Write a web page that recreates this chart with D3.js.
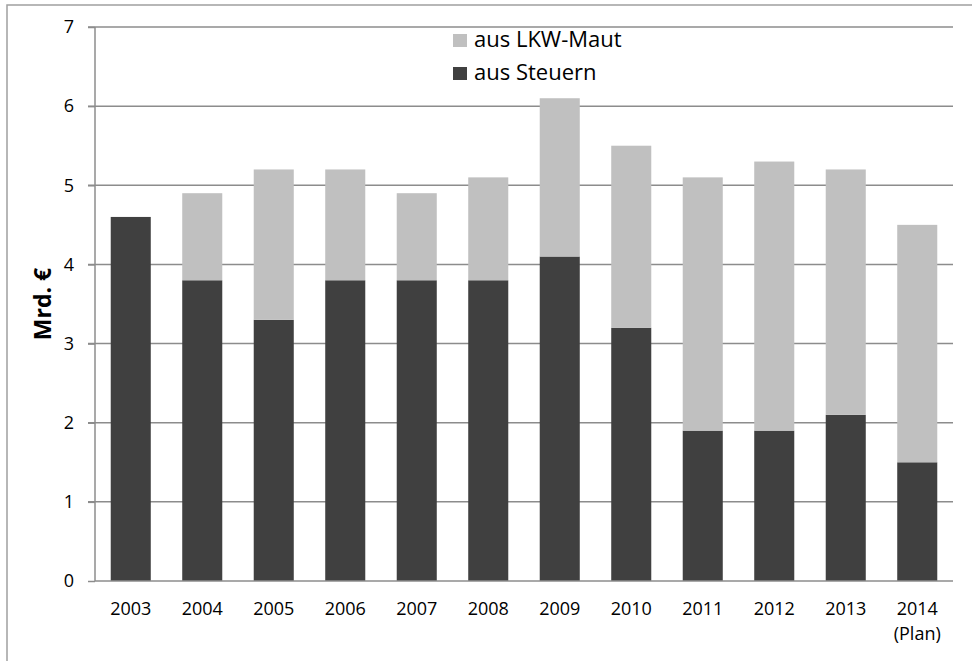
<!DOCTYPE html>
<html><head><meta charset="utf-8">
<script src="https://cdn.jsdelivr.net/npm/d3@7"></script>
<style>body{margin:0;background:#fff;} svg{display:block;}</style>
</head><body>
<svg id="c" width="972" height="661"></svg>
<script>
const categories = ["2003","2004","2005","2006","2007","2008","2009","2010","2011","2012","2013","2014"];
const steuern = [4.6,3.8,3.3,3.8,3.8,3.8,4.1,3.2,1.9,1.9,2.1,1.5];
const maut    = [0,1.1,1.9,1.4,1.1,1.3,2.0,2.3,3.2,3.4,3.1,3.0];
const yTicks = [0,1,2,3,4,5,6,7];
const seriesNames = ["aus LKW-Maut","aus Steuern"];
const colors = {"aus LKW-Maut":"#c0c0c0","aus Steuern":"#404040"};

const svg = d3.select("#c");
const font = "'Open Sans', sans-serif";
const m = {l:95, r:953, t:27, b:581};

// outer border
svg.append("rect").attr("x",7).attr("y",5).attr("width",1000).attr("height",700)
  .attr("fill","none").attr("stroke","#a0a0a0").attr("stroke-width",1.5);

const x = d3.scaleBand().domain(categories).range([m.l,m.r]).paddingInner(0.44).paddingOuter(0.22);
const y = d3.scaleLinear().domain([0,7]).range([m.b,m.t]);

// gridlines
svg.append("g").selectAll("line").data(yTicks.filter(d=>d>0)).join("line")
  .attr("x1",m.l-7).attr("x2",m.r).attr("y1",d=>y(d)).attr("y2",d=>y(d))
  .attr("stroke","#8c8c8c").attr("stroke-width",1.5);

const data = categories.map((c,i)=>({cat:c,"aus Steuern":steuern[i],"aus LKW-Maut":maut[i]}));
const stack = d3.stack().keys(["aus Steuern","aus LKW-Maut"])(data);
svg.append("g").selectAll("g").data(stack).join("g")
  .attr("fill",s=>colors[s.key])
  .selectAll("rect").data(s=>s).join("rect")
  .attr("x",d=>x(d.data.cat)).attr("width",x.bandwidth())
  .attr("y",d=>y(d[1])).attr("height",d=>y(d[0])-y(d[1]));

// y axis
const ya = svg.append("g").attr("transform",`translate(${m.l},0)`)
  .call(d3.axisLeft(y).tickValues(yTicks).tickFormat(d3.format("d")).tickSize(7).tickPadding(14));
ya.select(".domain").attr("stroke","#8c8c8c").attr("stroke-width",1.5).attr("d",`M0,${m.b}V${m.t}`);
ya.selectAll(".tick line").attr("stroke","#8c8c8c").attr("stroke-width",1.5);
ya.selectAll("text").attr("font-family",font).attr("font-size",18).attr("fill","#000");

// x axis
const xa = svg.append("g").attr("transform",`translate(0,${m.b})`)
  .call(d3.axisBottom(x).tickSize(0));
xa.select(".domain").attr("stroke","#8c8c8c").attr("stroke-width",1.5).attr("d",`M${m.l},0H${m.r}`);
xa.selectAll("text").attr("y",34).attr("dy",0).attr("font-family",font).attr("font-size",18).attr("fill","#000");
xa.selectAll(".tick").filter(d=>d==="2014").append("text")
  .attr("y",59).attr("text-anchor","middle").attr("font-family",font).attr("font-size",18).attr("fill","#000").text("(Plan)");

// y title
svg.append("text").attr("transform",`translate(51,${(m.t+m.b)/2}) rotate(-90)`)
  .attr("text-anchor","middle").attr("font-family",font).attr("font-weight","bold").attr("font-size",23).text("Mrd. €");

// legend
const lg = svg.append("g");
seriesNames.forEach((n,i)=>{
  const yy = 47 + i*33;
  lg.append("rect").attr("x",453).attr("y",yy-13).attr("width",14).attr("height",13).attr("fill",colors[n]);
  lg.append("text").attr("x",474).attr("y",yy).attr("font-family",font).attr("font-size",22).text(n);
});
</script>
</body></html>
